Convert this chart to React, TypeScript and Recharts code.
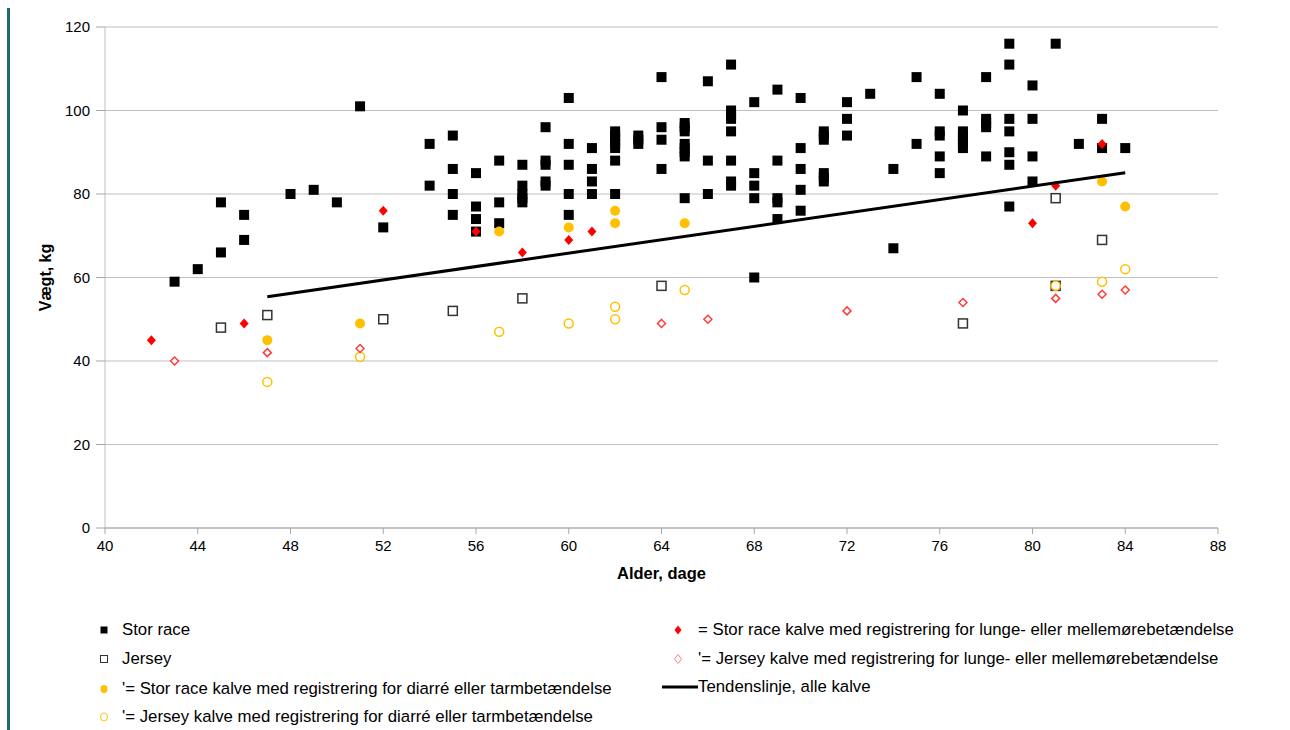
import React from 'react';
import { ScatterChart, Scatter, XAxis, YAxis, CartesianGrid } from 'recharts';

// [alder (dage), vægt (kg)]
const storRace: [number, number][] = [
  [43, 59], [44, 62], [45, 78], [45, 66], [46, 75], [46, 69], [48, 80], [49, 81], [50, 78], [51, 101], [52, 72],
  [54, 92], [54, 82], [55, 94], [55, 86], [55, 80], [55, 75], [56, 85], [56, 77], [56, 74], [56, 71],
  [57, 88], [57, 78], [57, 73], [58, 87], [58, 82], [58, 80], [58, 79], [58, 78],
  [59, 96], [59, 88], [59, 87], [59, 83], [59, 82], [60, 103], [60, 92], [60, 87], [60, 80], [60, 75],
  [61, 91], [61, 86], [61, 83], [61, 80], [62, 95], [62, 94], [62, 93], [62, 92], [62, 91], [62, 88], [62, 80],
  [63, 94], [63, 93], [63, 92], [64, 108], [64, 96], [64, 93], [64, 86],
  [65, 97], [65, 96], [65, 95], [65, 92], [65, 91], [65, 90], [65, 89], [65, 79],
  [66, 107], [66, 88], [66, 80], [67, 111], [67, 100], [67, 99], [67, 98], [67, 95], [67, 88], [67, 83], [67, 82],
  [68, 102], [68, 85], [68, 82], [68, 79], [68, 60], [69, 105], [69, 88], [69, 79], [69, 78], [69, 74],
  [70, 103], [70, 91], [70, 86], [70, 81], [70, 76], [71, 95], [71, 94], [71, 93], [71, 85], [71, 84], [71, 83],
  [72, 102], [72, 98], [72, 94], [73, 104], [74, 86], [74, 67], [75, 108], [75, 92],
  [76, 104], [76, 95], [76, 94], [76, 89], [76, 85], [77, 100], [77, 95], [77, 94], [77, 93], [77, 92], [77, 91],
  [78, 108], [78, 98], [78, 97], [78, 96], [78, 89], [79, 116], [79, 111], [79, 98], [79, 95], [79, 90], [79, 87], [79, 77],
  [80, 106], [80, 98], [80, 89], [80, 83], [81, 116], [82, 92], [83, 98], [83, 91], [84, 91],
];
const jersey: [number, number][] = [
  [45, 48], [47, 51], [52, 50], [55, 52], [58, 55], [64, 58], [77, 49], [81, 79], [81, 58], [83, 69],
];
const storDiarre: [number, number][] = [
  [47, 45], [51, 49], [57, 71], [60, 72], [62, 76], [62, 73], [65, 73], [83, 83], [84, 77],
];
const jerseyDiarre: [number, number][] = [
  [47, 35], [51, 41], [57, 47], [60, 49], [62, 53], [62, 50], [65, 57], [81, 58], [83, 59], [84, 62],
];
const storLunge: [number, number][] = [
  [42, 45], [46, 49], [52, 76], [56, 71], [58, 66], [60, 69], [61, 71], [80, 73], [81, 82], [83, 92],
];
const jerseyLunge: [number, number][] = [
  [43, 40], [47, 42], [51, 43], [64, 49], [66, 50], [72, 52], [77, 54], [81, 55], [83, 56], [84, 57],
];
const tendens: [number, number][] = [[47, 55.4], [84, 85.1]];

const xTicks = [40, 44, 48, 52, 56, 60, 64, 68, 72, 76, 80, 84, 88];
const yTicks = [0, 20, 40, 60, 80, 100, 120];

const toPoints = (arr: [number, number][]) => arr.map(([x, y]) => ({ x, y }));

const FONT = '"Liberation Sans", Arial, sans-serif';
const YELLOW = '#ffc000';
const RED = '#ff0000';
const RED_LIGHT = '#ff3b3b';

const FilledSquare = (p: any) => <rect x={p.cx - 5} y={p.cy - 5} width={10} height={10} fill="#000" />;
const OpenSquare = (p: any) => (
  <rect x={p.cx - 4.5} y={p.cy - 4.5} width={9} height={9} fill="#fff" stroke="#333" strokeWidth={1.5} />
);
const FilledCircle = (p: any) => <circle cx={p.cx} cy={p.cy} r={5} fill={YELLOW} />;
const OpenCircle = (p: any) => <circle cx={p.cx} cy={p.cy} r={4.5} fill="#fff" stroke={YELLOW} strokeWidth={1.5} />;
const FilledDiamond = (p: any) => (
  <polygon points={`${p.cx},${p.cy - 5} ${p.cx + 4.5},${p.cy} ${p.cx},${p.cy + 5} ${p.cx - 4.5},${p.cy}`} fill={RED} />
);
const OpenDiamond = (p: any) => (
  <polygon
    points={`${p.cx},${p.cy - 4} ${p.cx + 4},${p.cy} ${p.cx},${p.cy + 4} ${p.cx - 4},${p.cy}`}
    fill="#fff"
    stroke={RED_LIGHT}
    strokeWidth={1.5}
  />
);
const NoShape = () => <g />;

function LegendMarker({ kind }: { kind: string }) {
  if (kind === 'line') {
    return (
      <svg width={36} height={12}>
        <line x1={0} y1={6} x2={36} y2={6} stroke="#000" strokeWidth={3} />
      </svg>
    );
  }
  return (
    <svg width={12} height={12}>
      {kind === 'sq' && <rect x={2.5} y={2.5} width={7} height={7} fill="#000" />}
      {kind === 'osq' && <rect x={2.5} y={2.5} width={7} height={7} fill="#fff" stroke="#333" strokeWidth={1} />}
      {kind === 'dot' && <ellipse cx={6} cy={6} rx={3.5} ry={4} fill={YELLOW} />}
      {kind === 'odot' && <ellipse cx={6} cy={6} rx={3.5} ry={4} fill="#fff" stroke={YELLOW} strokeWidth={1} />}
      {kind === 'dia' && <polygon points="6,1.5 9.5,6 6,10.5 2.5,6" fill={RED} />}
      {kind === 'odia' && <polygon points="6,1.5 9.5,6 6,10.5 2.5,6" fill="#fff" stroke="#ff8080" strokeWidth={1} />}
    </svg>
  );
}

const legendLeft = [
  { kind: 'sq', text: 'Stor race', top: 630 },
  { kind: 'osq', text: 'Jersey', top: 659 },
  { kind: 'dot', text: "'= Stor race kalve med registrering for diarré eller tarmbetændelse", top: 689 },
  { kind: 'odot', text: "'= Jersey kalve med registrering for diarré eller tarmbetændelse", top: 717 },
];
const legendRight = [
  { kind: 'dia', text: '= Stor race kalve med registrering for lunge- eller mellemørebetændelse', top: 630 },
  { kind: 'odia', text: "'= Jersey kalve med registrering for lunge- eller mellemørebetændelse", top: 659 },
  { kind: 'line', text: 'Tendenslinje, alle kalve', top: 687 },
];

const LEGEND_FS = 16.8;

export default function App() {
  return (
    <div style={{ position: 'absolute', left: 0, top: 0, width: 1290, height: 730, background: '#fff', fontFamily: FONT }}>
      <div style={{ position: 'absolute', left: 7, top: 8, width: 3, height: 722, background: '#1d6b70' }} />
      <ScatterChart width={1290} height={730} margin={{ top: 27, right: 72, bottom: 172, left: 0 }}>
        <CartesianGrid vertical={false} stroke="#bfbfbf" strokeWidth={1.2} />
        <XAxis
          type="number"
          dataKey="x"
          domain={[40, 88]}
          ticks={xTicks}
          interval={0}
          height={30}
          axisLine={{ stroke: '#a6a6a6' }}
          tickLine={{ stroke: '#a6a6a6' }}
          tickSize={6}
          tickMargin={6}
          tick={{ fill: '#000', fontSize: 15, fontFamily: FONT }}
          label={{ value: 'Alder, dage', position: 'bottom', offset: 9, fill: '#000', fontSize: 16.5, fontWeight: 'bold', fontFamily: FONT }}
        />
        <YAxis
          type="number"
          dataKey="y"
          domain={[0, 120]}
          ticks={yTicks}
          interval={0}
          width={105}
          axisLine={{ stroke: '#bfbfbf' }}
          tickLine={{ stroke: '#a6a6a6' }}
          tickSize={9}
          tickMargin={6}
          tick={{ fill: '#000', fontSize: 15, fontFamily: FONT }}
          label={{ value: 'Vægt, kg', angle: -90, position: 'center', dx: -7, fill: '#000', fontSize: 16, fontWeight: 'bold', fontFamily: FONT }}
        />
        <Scatter data={toPoints(storRace)} shape={FilledSquare} isAnimationActive={false} />
        <Scatter data={toPoints(jersey)} shape={OpenSquare} isAnimationActive={false} />
        <Scatter data={toPoints(storDiarre)} shape={FilledCircle} isAnimationActive={false} />
        <Scatter data={toPoints(jerseyDiarre)} shape={OpenCircle} isAnimationActive={false} />
        <Scatter data={toPoints(storLunge)} shape={FilledDiamond} isAnimationActive={false} />
        <Scatter data={toPoints(jerseyLunge)} shape={OpenDiamond} isAnimationActive={false} />
        <Scatter
          data={toPoints(tendens)}
          shape={NoShape}
          line={{ stroke: '#000', strokeWidth: 3 }}
          isAnimationActive={false}
        />
      </ScatterChart>
      {legendLeft.map((l) => (
        <div key={l.text} style={{ position: 'absolute', left: 98, top: l.top - 10, height: 20, display: 'flex', alignItems: 'center', fontSize: LEGEND_FS, color: '#000', whiteSpace: 'nowrap' }}>
          <LegendMarker kind={l.kind} />
          <span style={{ marginLeft: 12 }}>{l.text}</span>
        </div>
      ))}
      {legendRight.map((l) => (
        <div
          key={l.text}
          style={{ position: 'absolute', left: l.kind === 'line' ? 662 : 672, top: l.top - 10, height: 20, display: 'flex', alignItems: 'center', fontSize: LEGEND_FS, color: '#000', whiteSpace: 'nowrap' }}
        >
          <LegendMarker kind={l.kind} />
          <span style={{ marginLeft: l.kind === 'line' ? 0 : 14 }}>{l.text}</span>
        </div>
      ))}
    </div>
  );
}
